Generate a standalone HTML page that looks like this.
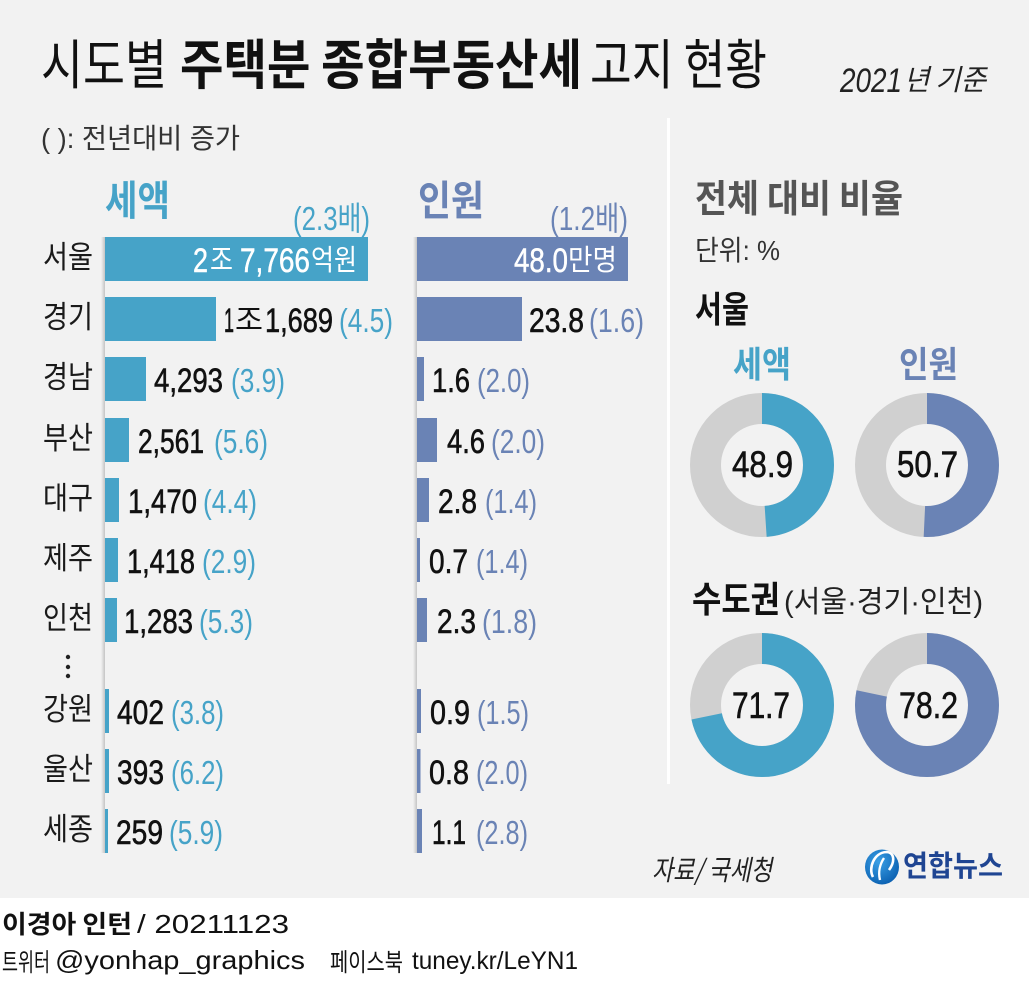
<!DOCTYPE html>
<html><head><meta charset="utf-8">
<style>
html,body{margin:0;padding:0;background:#f2f2f2;}
svg{display:block;}
text{font-family:"Liberation Sans","Noto Sans CJK KR",sans-serif;}
.k{font-family:"Noto Sans CJK KR","Liberation Sans",sans-serif;}
.n{stroke:#111;stroke-width:0.6;}
.w{stroke:#fff;stroke-width:0.5;}
</style></head>
<body>
<svg width="1029" height="993" viewBox="0 0 1029 993" xmlns="http://www.w3.org/2000/svg">
<defs>
<linearGradient id="sh" x1="0" x2="1" y1="0" y2="0">
<stop offset="0" stop-color="#f2f2f2"/><stop offset="1" stop-color="#c4c4c4"/>
</linearGradient>
<radialGradient id="lg" cx="0.4" cy="0.35" r="0.7">
<stop offset="0" stop-color="#3aa0e6"/><stop offset="1" stop-color="#0a5fb0"/>
</radialGradient>
</defs>
<rect x="0" y="0" width="1029" height="898" fill="#f2f2f2"/>
<rect x="0" y="898" width="1029" height="95" fill="#ffffff"/>

<!-- Title -->
<text class="k" x="41" y="84" font-size="54" fill="#111" textLength="126" lengthAdjust="spacingAndGlyphs">시도별</text>
<text class="k" x="180" y="84" font-size="54" font-weight="bold" fill="#111" textLength="402" lengthAdjust="spacingAndGlyphs">주택분 종합부동산세</text>
<text class="k" x="590" y="84" font-size="54" fill="#111" textLength="177" lengthAdjust="spacingAndGlyphs">고지 현황</text>
<text x="840" y="92" font-size="34" font-style="italic" fill="#222" textLength="62" lengthAdjust="spacingAndGlyphs">2021</text>
<text class="k" x="904" y="90" font-size="29" font-style="italic" fill="#222" textLength="82" lengthAdjust="spacingAndGlyphs">년 기준</text>

<text x="41" y="148" font-size="28" fill="#333" textLength="199" lengthAdjust="spacingAndGlyphs">( ): 전년대비 증가</text>

<!-- Divider -->
<rect x="667" y="118" width="3" height="666" fill="#ffffff"/>

<!-- Headings -->
<text class="k" x="105" y="215" font-size="41" font-weight="bold" fill="#46a3c8" textLength="65" lengthAdjust="spacingAndGlyphs">세액</text>
<text class="k" x="418" y="215" font-size="41" font-weight="bold" fill="#6a83b5" textLength="66" lengthAdjust="spacingAndGlyphs">인원</text>
<text x="293" y="230" font-size="33" fill="#46a3c8" textLength="77" lengthAdjust="spacingAndGlyphs">(2.3배)</text>
<text x="550" y="230" font-size="33" fill="#6a83b5" textLength="78" lengthAdjust="spacingAndGlyphs">(1.2배)</text>

<!-- shadows -->
<rect x="101" y="237" width="4" height="616" fill="url(#sh)"/>
<rect x="413" y="237" width="4" height="616" fill="url(#sh)"/>

<!-- region labels -->
<g font-size="31" fill="#1a1a1a">
<text class="k" x="43" y="268" textLength="50" lengthAdjust="spacingAndGlyphs">서울</text>
<text class="k" x="43" y="328" textLength="50" lengthAdjust="spacingAndGlyphs">경기</text>
<text class="k" x="43" y="388" textLength="50" lengthAdjust="spacingAndGlyphs">경남</text>
<text class="k" x="43" y="449" textLength="50" lengthAdjust="spacingAndGlyphs">부산</text>
<text class="k" x="43" y="509" textLength="50" lengthAdjust="spacingAndGlyphs">대구</text>
<text class="k" x="43" y="569" textLength="50" lengthAdjust="spacingAndGlyphs">제주</text>
<text class="k" x="43" y="629" textLength="50" lengthAdjust="spacingAndGlyphs">인천</text>
<text class="k" x="43" y="720" textLength="50" lengthAdjust="spacingAndGlyphs">강원</text>
<text class="k" x="43" y="780" textLength="50" lengthAdjust="spacingAndGlyphs">울산</text>
<text class="k" x="43" y="840" textLength="50" lengthAdjust="spacingAndGlyphs">세종</text>
</g>
<circle cx="68" cy="657" r="2.2" fill="#222"/>
<circle cx="68" cy="667" r="2.2" fill="#222"/>
<circle cx="68" cy="676" r="2.2" fill="#222"/>

<!-- 세액 bars -->
<g fill="#46a3c8">
<rect x="105" y="237" width="263" height="44"/>
<rect x="105" y="297" width="111" height="44"/>
<rect x="105" y="357" width="41" height="44"/>
<rect x="105" y="418" width="24" height="44"/>
<rect x="105" y="478" width="14" height="44"/>
<rect x="105" y="538" width="13" height="44"/>
<rect x="105" y="598" width="12" height="44"/>
<rect x="105" y="689" width="4" height="44"/>
<rect x="105" y="749" width="4" height="44"/>
<rect x="105" y="809" width="3" height="44"/>
</g>

<!-- 인원 bars -->
<g fill="#6a83b5">
<rect x="417" y="237" width="211" height="44"/>
<rect x="417" y="297" width="105" height="44"/>
<rect x="417" y="357" width="7" height="44"/>
<rect x="417" y="418" width="20" height="44"/>
<rect x="417" y="478" width="12" height="44"/>
<rect x="417" y="538" width="3" height="44"/>
<rect x="417" y="598" width="10" height="44"/>
<rect x="417" y="689" width="4" height="44"/>
<rect x="417" y="749" width="3.5" height="44"/>
<rect x="417" y="809" width="5" height="44"/>
</g>

<!-- 세액 values -->
<text class="w" x="193" y="272" font-size="34" fill="#fff" textLength="15" lengthAdjust="spacingAndGlyphs">2</text>
<text class="k" x="210" y="270" font-size="29" fill="#fff" textLength="23" lengthAdjust="spacingAndGlyphs">조</text>
<text class="w" x="240" y="272" font-size="34" fill="#fff" textLength="70" lengthAdjust="spacingAndGlyphs">7,766</text>
<text class="k" x="311" y="270" font-size="29" fill="#fff" textLength="46" lengthAdjust="spacingAndGlyphs">억원</text>

<text class="n" x="224" y="332" font-size="34" fill="#111" textLength="10" lengthAdjust="spacingAndGlyphs">1</text>
<text class="k" x="235" y="330" font-size="29" fill="#111" textLength="28" lengthAdjust="spacingAndGlyphs">조</text>
<text class="n" x="265" y="332" font-size="34" fill="#111" textLength="68" lengthAdjust="spacingAndGlyphs">1,689</text>
<text x="339" y="332" font-size="33" fill="#46a3c8" textLength="54" lengthAdjust="spacingAndGlyphs">(4.5)</text>

<text class="n" x="154" y="392" font-size="34" fill="#111" textLength="69" lengthAdjust="spacingAndGlyphs">4,293</text>
<text x="231" y="392" font-size="33" fill="#46a3c8" textLength="54" lengthAdjust="spacingAndGlyphs">(3.9)</text>
<text class="n" x="138" y="453" font-size="34" fill="#111" textLength="66" lengthAdjust="spacingAndGlyphs">2,561</text>
<text x="214" y="453" font-size="33" fill="#46a3c8" textLength="54" lengthAdjust="spacingAndGlyphs">(5.6)</text>
<text class="n" x="128" y="513" font-size="34" fill="#111" textLength="69" lengthAdjust="spacingAndGlyphs">1,470</text>
<text x="203" y="513" font-size="33" fill="#46a3c8" textLength="54" lengthAdjust="spacingAndGlyphs">(4.4)</text>
<text class="n" x="127" y="573" font-size="34" fill="#111" textLength="68" lengthAdjust="spacingAndGlyphs">1,418</text>
<text x="202" y="573" font-size="33" fill="#46a3c8" textLength="54" lengthAdjust="spacingAndGlyphs">(2.9)</text>
<text class="n" x="124" y="633" font-size="34" fill="#111" textLength="69" lengthAdjust="spacingAndGlyphs">1,283</text>
<text x="199" y="633" font-size="33" fill="#46a3c8" textLength="54" lengthAdjust="spacingAndGlyphs">(5.3)</text>
<text class="n" x="117" y="724" font-size="34" fill="#111" textLength="47" lengthAdjust="spacingAndGlyphs">402</text>
<text x="171" y="724" font-size="33" fill="#46a3c8" textLength="53" lengthAdjust="spacingAndGlyphs">(3.8)</text>
<text class="n" x="117" y="784" font-size="34" fill="#111" textLength="47" lengthAdjust="spacingAndGlyphs">393</text>
<text x="171" y="784" font-size="33" fill="#46a3c8" textLength="53" lengthAdjust="spacingAndGlyphs">(6.2)</text>
<text class="n" x="116" y="844" font-size="34" fill="#111" textLength="47" lengthAdjust="spacingAndGlyphs">259</text>
<text x="169" y="844" font-size="33" fill="#46a3c8" textLength="54" lengthAdjust="spacingAndGlyphs">(5.9)</text>

<!-- 인원 values -->
<text class="w" x="514" y="272" font-size="34" fill="#fff" textLength="54" lengthAdjust="spacingAndGlyphs">48.0</text>
<text class="k" x="568" y="270" font-size="29" fill="#fff" textLength="49" lengthAdjust="spacingAndGlyphs">만명</text>
<text class="n" x="529" y="332" font-size="34" fill="#111" textLength="55" lengthAdjust="spacingAndGlyphs">23.8</text>
<text x="589" y="332" font-size="33" fill="#6a83b5" textLength="55" lengthAdjust="spacingAndGlyphs">(1.6)</text>
<text class="n" x="432" y="392" font-size="34" fill="#111" textLength="38" lengthAdjust="spacingAndGlyphs">1.6</text>
<text x="477" y="392" font-size="33" fill="#6a83b5" textLength="53" lengthAdjust="spacingAndGlyphs">(2.0)</text>
<text class="n" x="447" y="453" font-size="34" fill="#111" textLength="38" lengthAdjust="spacingAndGlyphs">4.6</text>
<text x="491" y="453" font-size="33" fill="#6a83b5" textLength="54" lengthAdjust="spacingAndGlyphs">(2.0)</text>
<text class="n" x="438" y="513" font-size="34" fill="#111" textLength="39" lengthAdjust="spacingAndGlyphs">2.8</text>
<text x="485" y="513" font-size="33" fill="#6a83b5" textLength="52" lengthAdjust="spacingAndGlyphs">(1.4)</text>
<text class="n" x="429" y="573" font-size="34" fill="#111" textLength="39" lengthAdjust="spacingAndGlyphs">0.7</text>
<text x="476" y="573" font-size="33" fill="#6a83b5" textLength="52" lengthAdjust="spacingAndGlyphs">(1.4)</text>
<text class="n" x="437" y="633" font-size="34" fill="#111" textLength="39" lengthAdjust="spacingAndGlyphs">2.3</text>
<text x="482" y="633" font-size="33" fill="#6a83b5" textLength="55" lengthAdjust="spacingAndGlyphs">(1.8)</text>
<text class="n" x="430" y="724" font-size="34" fill="#111" textLength="40" lengthAdjust="spacingAndGlyphs">0.9</text>
<text x="477" y="724" font-size="33" fill="#6a83b5" textLength="52" lengthAdjust="spacingAndGlyphs">(1.5)</text>
<text class="n" x="429" y="784" font-size="34" fill="#111" textLength="40" lengthAdjust="spacingAndGlyphs">0.8</text>
<text x="476" y="784" font-size="33" fill="#6a83b5" textLength="52" lengthAdjust="spacingAndGlyphs">(2.0)</text>
<text class="n" x="432" y="844" font-size="34" fill="#111" textLength="34" lengthAdjust="spacingAndGlyphs">1.1</text>
<text x="476" y="844" font-size="33" fill="#6a83b5" textLength="52" lengthAdjust="spacingAndGlyphs">(2.8)</text>

<!-- Right panel -->
<text class="k" x="695" y="212" font-size="38" font-weight="bold" fill="#555" textLength="208" lengthAdjust="spacingAndGlyphs">전체 대비 비율</text>
<text x="695" y="260" font-size="28" fill="#333" textLength="85" lengthAdjust="spacingAndGlyphs">단위: %</text>
<text class="k" x="695" y="322" font-size="36" font-weight="bold" fill="#111" textLength="54" lengthAdjust="spacingAndGlyphs">서울</text>
<text class="k" x="733" y="377" font-size="36" font-weight="bold" fill="#46a3c8" textLength="58" lengthAdjust="spacingAndGlyphs">세액</text>
<text class="k" x="899" y="377" font-size="36" font-weight="bold" fill="#6a83b5" textLength="59" lengthAdjust="spacingAndGlyphs">인원</text>

<!-- donuts row 1 -->
<circle cx="762" cy="465" r="56.5" fill="none" stroke="#d0d0d0" stroke-width="31"/>
<circle cx="762" cy="465" r="56.5" fill="none" stroke="#46a3c8" stroke-width="31" stroke-dasharray="173.6 400" transform="rotate(-90 762 465)"/>
<circle cx="927" cy="465" r="56.5" fill="none" stroke="#d0d0d0" stroke-width="31"/>
<circle cx="927" cy="465" r="56.5" fill="none" stroke="#6a83b5" stroke-width="31" stroke-dasharray="180.0 400" transform="rotate(-90 927 465)"/>
<text class="n" x="732" y="477" font-size="37" fill="#111" textLength="61" lengthAdjust="spacingAndGlyphs">48.9</text>
<text class="n" x="897" y="477" font-size="37" fill="#111" textLength="61" lengthAdjust="spacingAndGlyphs">50.7</text>

<text class="k" x="692" y="612" font-size="36" font-weight="bold" fill="#111" textLength="88" lengthAdjust="spacingAndGlyphs">수도권</text>
<text x="784" y="612" font-size="30" fill="#222" textLength="199" lengthAdjust="spacingAndGlyphs">(서울·경기·인천)</text>

<!-- donuts row 2 -->
<circle cx="762" cy="705" r="56.5" fill="none" stroke="#d0d0d0" stroke-width="31"/>
<circle cx="762" cy="705" r="56.5" fill="none" stroke="#46a3c8" stroke-width="31" stroke-dasharray="254.5 400" transform="rotate(-90 762 705)"/>
<circle cx="927" cy="705" r="56.5" fill="none" stroke="#d0d0d0" stroke-width="31"/>
<circle cx="927" cy="705" r="56.5" fill="none" stroke="#6a83b5" stroke-width="31" stroke-dasharray="277.6 400" transform="rotate(-90 927 705)"/>
<text class="n" x="732" y="718" font-size="37" fill="#111" textLength="58" lengthAdjust="spacingAndGlyphs">71.7</text>
<text class="n" x="899" y="718" font-size="37" fill="#111" textLength="59" lengthAdjust="spacingAndGlyphs">78.2</text>

<!-- source & logo -->
<text class="k" x="652" y="880" font-size="28" font-style="italic" fill="#222" textLength="120" lengthAdjust="spacingAndGlyphs">자료/ 국세청</text>
<ellipse cx="882" cy="867" rx="17" ry="17.5" fill="url(#lg)"/>
<path d="M873 877 C868 868 874 853 886 852 C895 852 895 862 889 870" fill="none" stroke="#fff" stroke-width="2.6"/>
<path d="M884 858 C880 864 878 872 880 880" fill="none" stroke="#fff" stroke-width="2.4"/>
<text class="k" x="903" y="876" font-size="29" font-weight="bold" fill="#1f4592" textLength="100" lengthAdjust="spacingAndGlyphs">연합뉴스</text>

<!-- footer -->
<text class="k" x="2" y="933" font-size="25" font-weight="bold" fill="#111" textLength="130" lengthAdjust="spacingAndGlyphs">이경아 인턴</text>
<text x="137" y="933" font-size="26" fill="#111" textLength="152" lengthAdjust="spacingAndGlyphs">/ 20211123</text>
<text class="k" x="2" y="971" font-size="25" fill="#111" textLength="48" lengthAdjust="spacingAndGlyphs">트위터</text>
<text x="55" y="969" font-size="26" fill="#111" textLength="250" lengthAdjust="spacingAndGlyphs">@yonhap_graphics</text>
<text class="k" x="330" y="971" font-size="25" fill="#111" textLength="73" lengthAdjust="spacingAndGlyphs">페이스북</text>
<text x="412" y="969" font-size="25" fill="#111" textLength="166" lengthAdjust="spacingAndGlyphs">tuney.kr/LeYN1</text>
</svg>
</body></html>
